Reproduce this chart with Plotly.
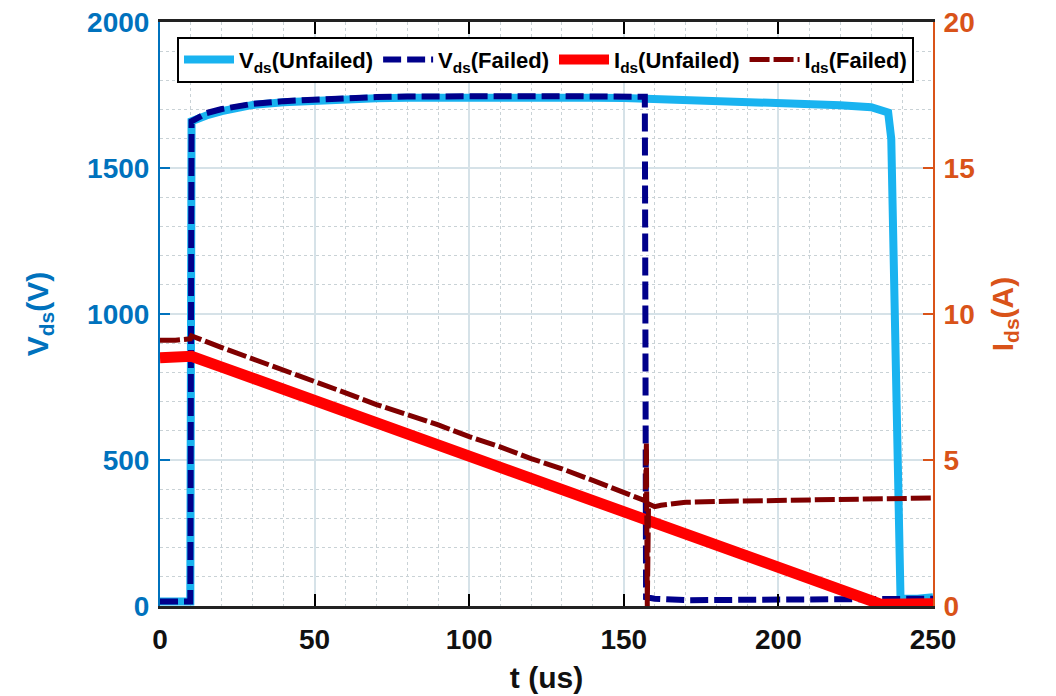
import plotly.graph_objects as go

# ---------------- data ----------------
t_vds_unfailed = [0, 5, 9.8, 10.2, 12, 15, 20, 25, 30, 40, 50, 60, 70, 80, 90, 100, 110, 120,
                  130, 140, 150, 160, 170, 180, 190, 200, 210, 220, 230, 234, 235.5, 236.5,
                  237.5, 238.5, 239.5, 245, 250]
vds_unfailed = [15, 15, 15, 1660, 1668, 1680, 1695, 1708, 1716, 1725, 1731, 1736, 1739, 1741,
                1742, 1743, 1743, 1743, 1742, 1741, 1740, 1737, 1734, 1731, 1728, 1724, 1720,
                1715, 1708, 1695, 1690, 1600, 1100, 400, 25, 25, 30]

t_vds_failed = [0, 5, 9.8, 10.2, 12, 15, 20, 25, 30, 40, 50, 60, 70, 80, 90, 100, 110, 120,
                130, 140, 150, 156.8, 157.2, 160, 170, 180, 190, 200, 210, 220, 230, 240, 250]
vds_failed = [15, 15, 15, 1660, 1672, 1688, 1702, 1712, 1720, 1729, 1735, 1740, 1743, 1745,
              1746, 1746, 1746, 1746, 1746, 1745, 1745, 1744, 30, 25, 20, 20, 20, 20, 20, 20,
              20, 22, 25]

t_ids_unfailed = [0, 9.8, 10.2, 20, 30, 40, 50, 60, 70, 80, 90, 100, 110, 120, 130, 140, 150,
                  157, 160, 170, 180, 190, 200, 210, 220, 225, 230, 233, 240, 250]
ids_unfailed = [8.5, 8.5, 8.55, 8.18, 7.8, 7.43, 7.05, 6.68, 6.3, 5.93, 5.55, 5.18, 4.8, 4.43,
                4.05, 3.68, 3.3, 3.04, 2.9, 2.52, 2.15, 1.78, 1.42, 1.03, 0.62, 0.42, 0.18, 0.06,
                0.06, 0.08]

t_ids_failed = [0, 5, 9.8, 10.2, 20, 30, 40, 50, 60, 70, 80, 90, 100, 110, 120, 130, 140, 150,
                157, 157.3, 157.6, 158, 160, 162, 170, 180, 200, 220, 240, 250]
ids_failed = [9.1, 9.1, 9.15, 9.25, 8.85, 8.47, 8.1, 7.7, 7.3, 6.9, 6.55, 6.2, 5.8, 5.45, 5.05,
              4.7, 4.3, 3.9, 3.6, 5.6, 0.0, 3.5, 3.4, 3.45, 3.55, 3.58, 3.62, 3.65, 3.68, 3.7]

x_ticks = [0, 50, 100, 150, 200, 250]
v_ticks = [0, 500, 1000, 1500, 2000]
i_ticks = [0, 5, 10, 15, 20]

BLUE_AX = "#0072BD"
ORANGE_AX = "#D95319"
FONT = "Liberation Sans, Arial, sans-serif"

fig = go.Figure()
fig.add_trace(go.Scatter(x=t_vds_unfailed, y=vds_unfailed, mode="lines",
                         name="V<sub>ds</sub>(Unfailed)",
                         line=dict(color="#19B3F0", width=8), yaxis="y"))
fig.add_trace(go.Scatter(x=t_vds_failed, y=vds_failed, mode="lines",
                         name="V<sub>ds</sub>(Failed)",
                         line=dict(color="#00008B", width=6, dash="18px,6px"), yaxis="y"))
fig.add_trace(go.Scatter(x=t_ids_unfailed, y=ids_unfailed, mode="lines",
                         name="I<sub>ds</sub>(Unfailed)",
                         line=dict(color="#FF0000", width=11), yaxis="y2"))
fig.add_trace(go.Scatter(x=t_ids_failed, y=ids_failed, mode="lines",
                         name="I<sub>ds</sub>(Failed)",
                         line=dict(color="#800000", width=5, dash="20px,4px"), yaxis="y2"))

grid_major = "#d6e2e8"
grid_minor = "#c9d2d6"

fig.update_layout(
    width=1048, height=689,
    margin=dict(l=152, r=123, t=14, b=91),
    plot_bgcolor="white", paper_bgcolor="white",
    font=dict(family=FONT),
    showlegend=True,
    legend=dict(orientation="h", x=0.022, y=0.975, xanchor="left", yanchor="top",
                bgcolor="white", bordercolor="black", borderwidth=2,
                font=dict(family=FONT, size=22, color="black", weight="bold"),
                itemwidth=50, tracegroupgap=0),
    xaxis=dict(range=[0, 250], tickvals=x_ticks, ticks="inside", ticklen=12,
               tickwidth=1.5, tickcolor="black", automargin=False,
               showline=True, linecolor="#222", linewidth=3, mirror="ticks",
               showgrid=True, gridcolor=grid_major, gridwidth=1.5,
               minor=dict(dtick=10, showgrid=True, gridcolor=grid_minor, griddash="dot",
                          gridwidth=1, ticks=""),
               tickfont=dict(size=28, color="#111", weight="bold"),
               ticklabelstandoff=6, ticklabeloverflow="allow",
               title=dict(text="t (us)", font=dict(size=30, color="#111", weight="bold"),
                          standoff=14),
               zeroline=False),
    yaxis=dict(range=[0, 2000], tickvals=v_ticks, ticks="inside", ticklen=10,
               tickwidth=2, tickcolor=BLUE_AX, automargin=False,
               showline=True, linecolor=BLUE_AX, linewidth=2,
               showgrid=True, gridcolor=grid_major, gridwidth=1.5,
               minor=dict(dtick=100, showgrid=True, gridcolor=grid_minor, griddash="dot",
                          gridwidth=1, ticks=""),
               tickfont=dict(size=28, color=BLUE_AX, weight="bold"),
               ticklabelstandoff=3, ticklabeloverflow="allow",
               title=dict(text="V<sub>ds</sub>(V)", font=dict(size=30, color=BLUE_AX,
                                                             weight="bold"), standoff=30),
               zeroline=False),
    yaxis2=dict(range=[0, 20], tickvals=i_ticks, overlaying="y", side="right",
                ticks="inside", ticklen=10, tickwidth=2, tickcolor=ORANGE_AX,
                showline=True, linecolor=ORANGE_AX, linewidth=2, automargin=False,
                showgrid=False, zeroline=False,
                tickfont=dict(size=28, color=ORANGE_AX, weight="bold"),
                ticklabelstandoff=3, ticklabeloverflow="allow",
                title=dict(text="I<sub>ds</sub>(A)", font=dict(size=30, color=ORANGE_AX,
                                                              weight="bold"), standoff=18)),
)

fig.write_html("out.html")
